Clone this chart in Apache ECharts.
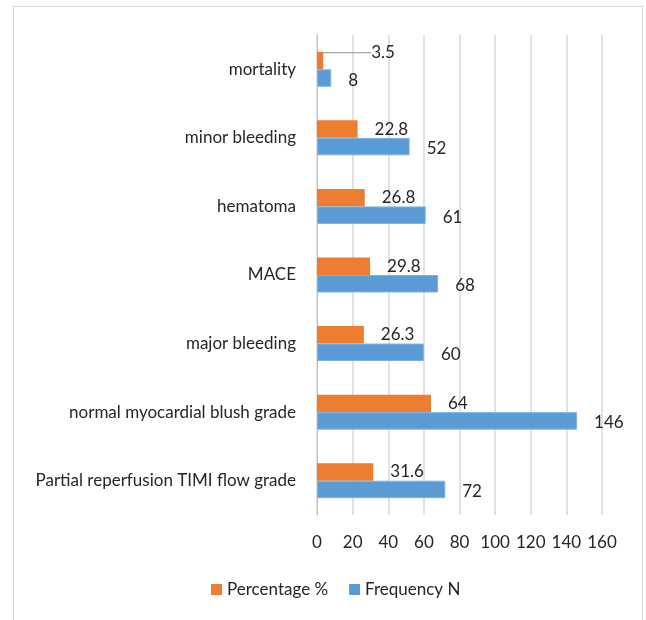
<!DOCTYPE html>
<html>
<head>
<meta charset="utf-8">
<script src="https://cdn.jsdelivr.net/npm/echarts@6/dist/echarts.min.js"></script>
<style>
  html, body { margin: 0; padding: 0; background: #fff; }
  #frame { position: absolute; left: 13px; top: 6px; width: 630px; height: 640px; border: 1px solid #D9D9D9; box-sizing: border-box; }
  #chart { position: absolute; left: 0; top: 0; width: 646px; height: 620px; }
</style>
</head>
<body>
<div id="frame"></div>
<div id="chart"></div>
<script>
// Outcome categories, listed bottom to top
const categories = [
  'Partial reperfusion TIMI flow grade',
  'normal myocardial blush grade',
  'major bleeding',
  'MACE',
  'hematoma',
  'minor bleeding',
  'mortality'
];
const percentage = [31.6, 64, 26.3, 29.8, 26.8, 22.8, 3.5];
const frequency = [72, 146, 60, 68, 61, 52, 8];
const xTicks = { min: 0, max: 160, interval: 20 };

const FONT = 'Lato';
const TEXT = '#262626';
const FS = 17;

const chart = echarts.init(document.getElementById('chart'), null, { renderer: 'canvas' });

const labelBase = {
  show: true,
  position: 'right',
  distance: 17,
  offset: [0, 2],
  color: TEXT,
  fontFamily: FONT,
  fontSize: FS
};

// the tiny mortality bar gets its label pulled aside with a leader line
const percentageData = percentage.map(function (v, i) {
  return i === 6
    ? { value: v, labelLine: { show: true, lineStyle: { color: '#A6A6A6', width: 1.2 } } }
    : { value: v, labelLine: { show: false } };
});

chart.setOption({
  animation: false,
  textStyle: { fontFamily: FONT },
  grid: { left: 317, right: 44, top: 35, bottom: 105, containLabel: false },
  legend: {
    bottom: 17,
    left: 206,
    itemWidth: 11,
    itemHeight: 11,
    itemGap: 21,
    icon: 'rect',
    itemStyle: { borderWidth: 0 },
    textStyle: { color: TEXT, fontFamily: FONT, fontSize: FS },
    data: ['Percentage %', 'Frequency N']
  },
  xAxis: {
    type: 'value',
    min: xTicks.min,
    max: xTicks.max,
    interval: xTicks.interval,
    axisLine: { show: false },
    axisTick: { show: false },
    axisLabel: { color: TEXT, fontFamily: FONT, fontSize: FS, margin: 19 },
    splitLine: { show: true, lineStyle: { color: '#D9D9D9', width: 1.5 } }
  },
  yAxis: {
    type: 'category',
    data: categories,
    axisLine: { show: true, lineStyle: { color: '#BFBFBF', width: 1 } },
    axisTick: { show: false },
    axisLabel: { color: TEXT, fontFamily: FONT, fontSize: FS, margin: 21 }
  },
  series: [
    {
      name: 'Percentage %',
      type: 'bar',
      data: percentageData,
      barGap: '0%',
      barCategoryGap: '49%',
      itemStyle: { color: '#ED7D31' },
      label: labelBase,
      labelLine: { show: false },
      labelLayout: function (p) {
        return p.dataIndex === 6 ? { dx: 31, dy: -8 } : {};
      }
    },
    {
      name: 'Frequency N',
      type: 'bar',
      data: frequency,
      barGap: '0%',
      barCategoryGap: '49%',
      itemStyle: { color: '#5B9BD5', borderColor: '#7FB1E0', borderWidth: 1 },
      label: labelBase
    }
  ]
});
</script>
</body>
</html>
